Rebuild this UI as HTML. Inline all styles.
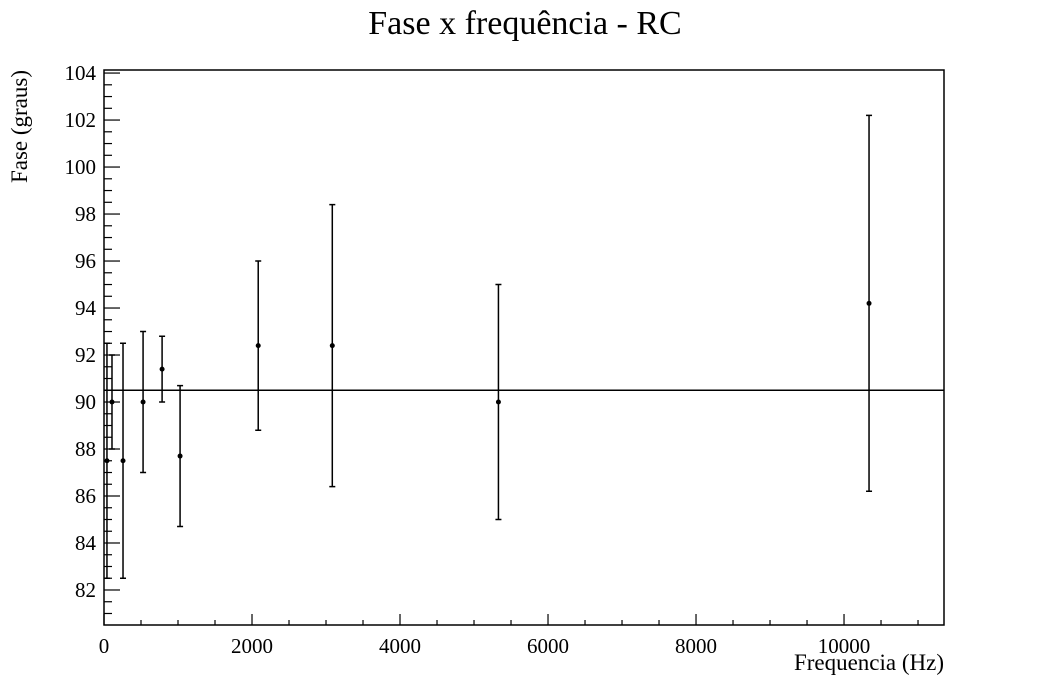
<!DOCTYPE html>
<html><head><meta charset="utf-8"><style>
html,body{margin:0;padding:0;background:#fff;}
svg{display:block;font-family:"Liberation Serif",serif;}
</style></head><body>
<svg id="chart" width="1050" height="695" viewBox="0 0 1050 695" xmlns="http://www.w3.org/2000/svg">
<text x="525" y="34" text-anchor="middle" font-size="34">Fase x frequência - RC</text>
<text x="944" y="670" text-anchor="end" font-size="23">Frequencia (Hz)</text>
<text transform="translate(27,70) rotate(-90)" text-anchor="end" font-size="23">Fase (graus)</text>
<g id="marks"></g>
<rect x="104" y="70" width="840" height="555" fill="none" stroke="#000" stroke-width="1.5"/>
</svg>
<script>
const freqs = [40, 108, 257, 528, 785, 1028, 2084, 3085, 5330, 10338];
const phases = [87.5, 90, 87.5, 90, 91.4, 87.7, 92.4, 92.4, 90, 94.2];
const errors = [5, 2, 5, 3, 1.4, 3, 3.6, 6, 5, 8];
const fitValue = 90.5;
const xTicks = [0, 2000, 4000, 6000, 8000, 10000];
const yTicks = [82, 84, 86, 88, 90, 92, 94, 96, 98, 100, 102, 104];

const X0=104, X1=944, Y0=625, Y1=70;
const xMin=0, xMax=11351;
const yMin=80.51, yMax=104.13;
const sx = v => X0 + (v-xMin)/(xMax-xMin)*(X1-X0);
const sy = v => Y0 - (v-yMin)/(yMax-yMin)*(Y0-Y1);
const NS="http://www.w3.org/2000/svg";
const g=document.getElementById('marks');
function mk(tag, attrs){const e=document.createElementNS(NS,tag);for(const k in attrs)e.setAttribute(k,attrs[k]);g.appendChild(e);return e;}

for(let v=0; v<=xMax; v+=500){
  const major = v%2000===0;
  const t=mk('line',{x1:sx(v),x2:sx(v),y1:Y0,y2:Y0-(major?11:5),stroke:'#000','stroke-width':1.2});
  
  
}
xTicks.forEach(v=>{
  const t=mk('text',{x:sx(v),y:653,'text-anchor':'middle','font-size':21});
  t.textContent=v;
  
  
});
for(let v=Math.ceil(yMin*2)/2; v<=yMax; v+=0.5){
  const major = Math.abs(v%2)<1e-6;
  const t=mk('line',{x1:X0,x2:X0+(major?16:8),y1:sy(v),y2:sy(v),stroke:'#000','stroke-width':1.2});
  
  
}
yTicks.forEach(v=>{
  const t=mk('text',{x:96,y:sy(v)+7,'text-anchor':'end','font-size':21});
  t.textContent=v;
  
  
});
const fl=mk('line',{x1:X0,x2:X1,y1:sy(fitValue),y2:sy(fitValue),stroke:'#000','stroke-width':1.5});


freqs.forEach((f,i)=>{
  const x=sx(f), y=sy(phases[i]), yt=sy(phases[i]+errors[i]), yb=sy(phases[i]-errors[i]);
  const eb=mk('path',{d:`M${x},${yt}V${yb}M${x-3},${yt}H${x+3}M${x-3},${yb}H${x+3}`,stroke:'#000','stroke-width':1.5,fill:'none'});
  
  
  const c=mk('circle',{cx:x,cy:y,r:2.5,fill:'#000'});
  
  
});
</script>
</body></html>
